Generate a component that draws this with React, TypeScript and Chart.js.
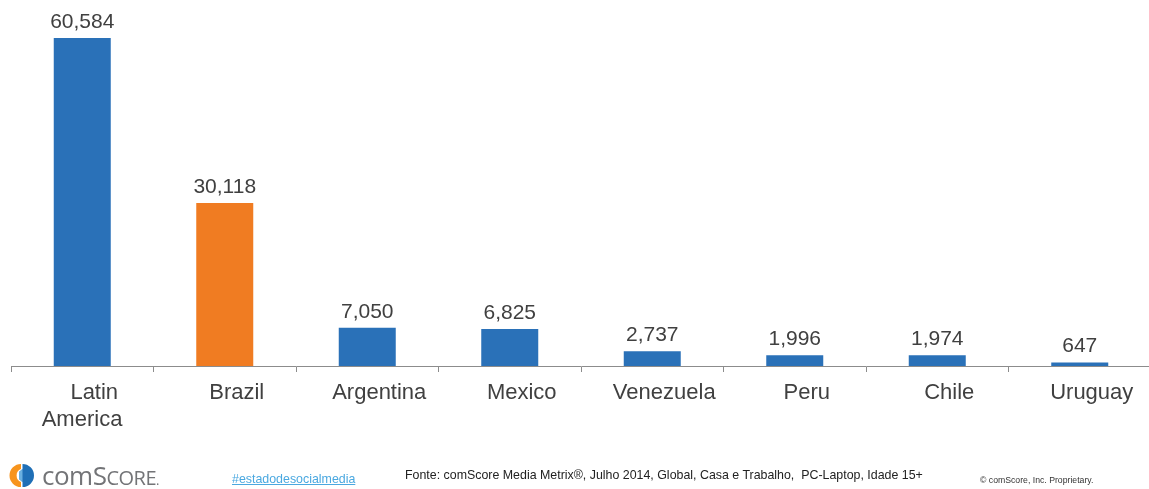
import React, { useEffect, useRef } from "react";
import { Chart, registerables } from "chart.js";

Chart.register(...registerables);

const categories: (string | string[])[] = [
  ["Latin", "America    "],
  "Brazil",
  "Argentina",
  "Mexico",
  "Venezuela",
  "Peru",
  "Chile",
  "Uruguay",
];
const visitors: number[] = [60584, 30118, 7050, 6825, 2737, 1996, 1974, 647];
const highlightIndex = 1;

const BLUE = "#2a71b8";
const ORANGE = "#f07c22";
const FONT = "'Liberation Sans', Arial, sans-serif";

const valueLabels = {
  id: "valueLabels",
  afterDatasetsDraw(chart: any) {
    const ctx = chart.ctx;
    const meta = chart.getDatasetMeta(0);
    ctx.save();
    ctx.font = `21px ${FONT}`;
    ctx.fillStyle = "#404040";
    ctx.textAlign = "center";
    ctx.textBaseline = "alphabetic";
    meta.data.forEach((bar: any, i: number) => {
      const v = chart.data.datasets[0].data[i] as number;
      ctx.fillText(v.toLocaleString("en-US"), bar.x, bar.y - 10);
    });
    ctx.restore();
  },
};

export default function App() {
  const ref = useRef<HTMLCanvasElement>(null);
  useEffect(() => {
    if (!ref.current) return;
    const chart = new Chart(ref.current, {
      type: "bar",
      data: {
        labels: categories,
        datasets: [
          {
            data: visitors,
            backgroundColor: visitors.map((_, i) => (i === highlightIndex ? ORANGE : BLUE)),
            barPercentage: 0.8,
            categoryPercentage: 0.5,
          },
        ],
      },
      options: {
        animation: false,
        responsive: false,
        events: [],
        layout: { padding: { left: 11, right: 1, top: 0, bottom: 0 } },
        plugins: { legend: { display: false }, tooltip: { enabled: false } },
        scales: {
          x: {
            afterFit(scale: any) {
              scale.height = 123;
            },
            grid: {
              offset: true,
              drawOnChartArea: false,
              drawTicks: true,
              tickLength: 6,
              color: "#8c8c8c",
            },
            border: { display: true, color: "#8c8c8c", width: 1 },
            ticks: {
              padding: 8,
              labelOffset: 12,
              color: "#404040",
              font: { family: FONT, size: 22, lineHeight: 1.2 },
              maxRotation: 0,
              autoSkip: false,
            },
          },
          y: { display: false, min: 0, max: 67600 },
        },
      },
      plugins: [valueLabels],
    });
    return () => chart.destroy();
  }, []);

  return (
    <div
      style={{
        position: "fixed",
        left: 0,
        top: 0,
        width: 1149,
        height: 489,
        overflow: "hidden",
        background: "#fff",
      }}
    >
      <canvas ref={ref} width={1152} height={489} style={{ position: "absolute", left: 0, top: 0 }} />
      <svg
        width="26"
        height="25"
        viewBox="0 0 26 25"
        style={{ position: "absolute", left: 8, top: 463 }}
      >
        <path d="M13 1 A11.5 11.5 0 0 0 13 24 L13 19 A7 7 0 0 1 13 6 Z" fill="#f7941d" />
        <path d="M14.5 1 A11.5 11.5 0 0 1 14.5 24 L14.5 19 L11 16 L11 9 L14.5 6 Z" fill="#1f6fb6" />
        <path d="M14.5 6 L11 9 L11 16 L14.5 19 Z" fill="#6ab0e0" />
      </svg>
      <div
        style={{
          position: "absolute",
          left: 42,
          top: 460,
          fontFamily: "'Open Sans', sans-serif",
          color: "#737477",
          fontSize: 26,
          lineHeight: "30px",
          whiteSpace: "nowrap",
          letterSpacing: -0.5,
        }}
      >
        com<span>S</span>
        <span style={{ fontSize: 20 }}>CORE</span>
        <span style={{ fontSize: 13 }}>.</span>
      </div>
      <div
        style={{
          position: "absolute",
          left: 232,
          top: 472,
          fontFamily: FONT,
          fontSize: 12.4,
          lineHeight: "14px",
          color: "#4aa8e0",
          textDecoration: "underline",
          whiteSpace: "nowrap",
        }}
      >
        #estadodesocialmedia
      </div>
      <div
        style={{
          position: "absolute",
          left: 405,
          top: 468,
          fontFamily: FONT,
          fontSize: 12.4,
          lineHeight: "15px",
          color: "#222",
          whiteSpace: "nowrap",
        }}
      >
        Fonte: comScore Media Metrix®, Julho 2014, Global, Casa e Trabalho,&nbsp; PC-Laptop, Idade 15+
      </div>
      <div
        style={{
          position: "absolute",
          left: 980,
          top: 475,
          fontFamily: FONT,
          fontSize: 8.7,
          lineHeight: "10px",
          color: "#333",
          whiteSpace: "nowrap",
        }}
      >
        © comScore, Inc. Proprietary.
      </div>
    </div>
  );
}
